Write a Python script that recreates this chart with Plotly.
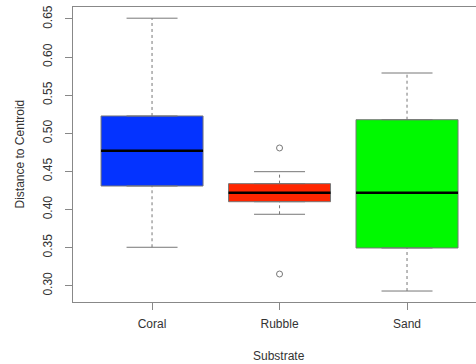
import plotly.graph_objects as go

categories = ["Coral", "Rubble", "Sand"]
lower_whisker = [0.3504, 0.3937, 0.2930]
q1 = [0.4308, 0.4102, 0.3495]
median = [0.4772, 0.4220, 0.4220]
q3 = [0.5227, 0.4339, 0.5178]
upper_whisker = [0.6510, 0.4496, 0.5791]
outliers = [[], [0.4807, 0.3153], []]
fill_colors = ["#0433FF", "#FF2600", "#00F900"]
y_ticks = [0.30, 0.35, 0.40, 0.45, 0.50, 0.55, 0.60, 0.65]

BOX_W = 0.8
CAP_W = 0.4
edge = "#777777"

fig = go.Figure()
for i, cat in enumerate(categories):
    x = i + 1
    fig.add_trace(go.Box(
        x=[x], q1=[q1[i]], median=[median[i]], q3=[q3[i]],
        lowerfence=[q1[i]], upperfence=[q3[i]],
        width=BOX_W, fillcolor=fill_colors[i],
        line=dict(color=edge, width=1), boxpoints=False,
        showlegend=False, hoverinfo="skip"))
    # median
    fig.add_trace(go.Scatter(
        x=[x - BOX_W / 2, x + BOX_W / 2], y=[median[i], median[i]],
        mode="lines", line=dict(color="black", width=2.5),
        showlegend=False, hoverinfo="skip"))
    # whiskers (dashed)
    for a, b in [(q3[i], upper_whisker[i]), (lower_whisker[i], q1[i])]:
        fig.add_trace(go.Scatter(
            x=[x, x], y=[a, b], mode="lines",
            line=dict(color=edge, width=1, dash="3px,3px"),
            showlegend=False, hoverinfo="skip"))
    # caps
    for v in [upper_whisker[i], lower_whisker[i]]:
        fig.add_trace(go.Scatter(
            x=[x - CAP_W / 2, x + CAP_W / 2], y=[v, v], mode="lines",
            line=dict(color=edge, width=1),
            showlegend=False, hoverinfo="skip"))
    if outliers[i]:
        fig.add_trace(go.Scatter(
            x=[x] * len(outliers[i]), y=outliers[i], mode="markers",
            marker=dict(symbol="circle-open", size=6, color=edge,
                        line=dict(width=1)),
            showlegend=False, hoverinfo="skip"))

font = dict(family="Liberation Sans, Arial, sans-serif", size=12, color="#333333")

fig.update_layout(
    width=476, height=364,
    margin=dict(l=73, r=0, t=7, b=62, autoexpand=False),
    paper_bgcolor="white", plot_bgcolor="white",
    font=font,
    xaxis=dict(
        range=[0.38, 3.541], automargin=False,
        tickvals=[1, 2, 3], ticktext=categories,
        showgrid=False, zeroline=False,
        showline=True, linecolor="#888888", linewidth=1, mirror=True,
        ticks="outside", ticklen=7, tickcolor="#888888",
        ticklabelstandoff=4,
    ),
    yaxis=dict(
        range=[0.2786, 0.6657], automargin=False,
        tickvals=y_ticks, ticktext=[f"{v:.2f}" for v in y_ticks],
        tickangle=-90,
        showgrid=False, zeroline=False,
        showline=True, linecolor="#888888", linewidth=1,
        ticks="outside", ticklen=7, tickcolor="#888888",
        ticklabelstandoff=8,
    ),
    annotations=[
        dict(text="Substrate", xref="paper", yref="paper", x=0.51, y=0,
             yshift=-54, xanchor="center", yanchor="middle",
             showarrow=False, font=font),
        dict(text="Distance to Centroid", xref="paper", yref="paper",
             x=0, y=0.5, xshift=-54, textangle=-90,
             xanchor="center", yanchor="middle", showarrow=False, font=font),
    ],
)

fig.write_html("out.html", config={"displayModeBar": False},
               post_script="document.body.style.margin='0';document.body.style.overflow='hidden';")
